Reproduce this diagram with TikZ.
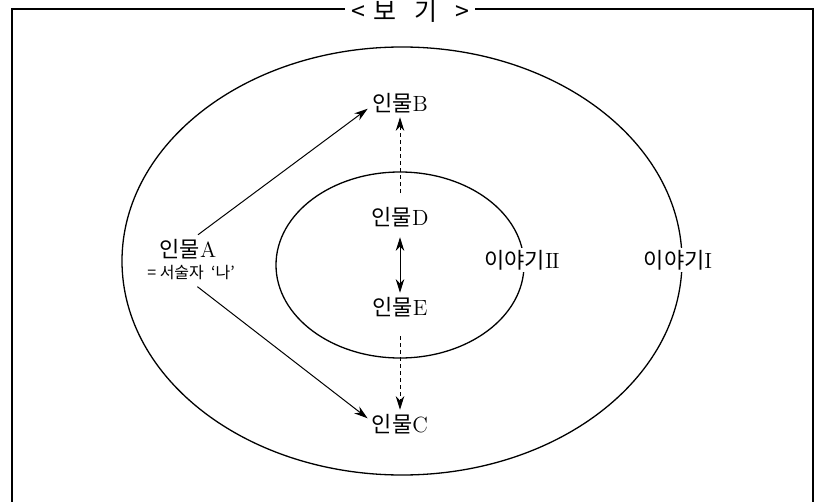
\documentclass[tikz,border=0pt]{standalone}
\usepackage{fontspec}
\newfontfamily\kr{Noto Sans CJK KR}
\usetikzlibrary{arrows.meta}

\begin{document}
\begin{tikzpicture}[
        x=0.5pt, y=-0.5pt, % 좌표는 그림의 픽셀 단위
        font=\fontsize{11}{13}\selectfont,
        % --- 스타일 ---
        frameline/.style={line width=0.9pt},
        storyline/.style={line width=0.65pt},
        person/.style={inner sep=2pt},
        story/.style={fill=white, inner sep=1pt},
        relation/.style={-{Stealth[length=2.4mm, width=1.5mm]}, line width=0.5pt},
        hidden/.style={relation, dash pattern=on 2pt off 1.5pt},
    ]
        \useasboundingbox (0,0) rectangle (817,502);

        % --- 1. 제목과 테두리 ---
        \node[inner xsep=3pt, inner ysep=0pt, font=\kr\fontsize{12.5}{14}\selectfont] (title) at (410,11)
            {<\hspace{4pt}보\hspace{9pt}기\hspace{9pt}>};
        \draw[frameline] (title.west|-0,9) -- (12,9) -- (12,502);
        \draw[frameline] (title.east|-0,9) -- (813,9) -- (813,502);

        % --- 2. 이야기 I, II ---
        \draw[storyline] (402,261) ellipse [x radius=140pt, y radius=107pt];
        \draw[storyline] (400,265) ellipse [x radius=62pt, y radius=46.5pt];

        % --- 3. 인물 ---
        \node[person] (A) at (188,249) {{\kr 인물}A};
        \node[inner sep=3pt, font=\kr\fontsize{8}{9}\selectfont] (Anote) at (191,273) {=\ 서술자\ \ ‘나’};
        \node[person] (B) at (400,103) {{\kr 인물}B};
        \node[person] (D) at (400,217) {{\kr 인물}D};
        \node[person] (E) at (400,307) {{\kr 인물}E};
        \node[person] (C) at (400,424) {{\kr 인물}C};
        \node[story] (inner) at (522,260) {{\kr 이야기}I\kern-0.4pt I};
        \node[story] (outer) at (678,260) {{\kr 이야기}I};

        % --- 4. 관계 화살표 ---
        \coordinate (innertop) at (400,193);
        \coordinate (innerbot) at (400,336);
        \draw[relation] (A.55) -- (B.190);
        \draw[relation] (Anote.-65) -- (C.170);
        \draw[hidden] (innertop) -- (B);
        \draw[hidden] (innerbot) -- (C);
        \draw[relation, {Stealth[length=2.4mm, width=1.5mm]}-{Stealth[length=2.4mm, width=1.5mm]}, shorten <=3pt] (D) -- (E);
    \end{tikzpicture}
\end{document}
